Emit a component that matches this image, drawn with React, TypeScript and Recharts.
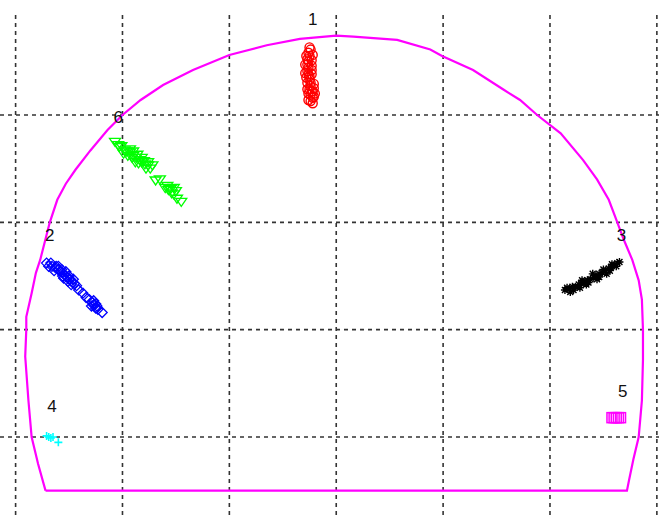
import { ScatterChart, Scatter, XAxis, YAxis, ReferenceLine } from 'recharts'

// tunnel cross-section outline, one grid cell = 1 unit
const outline = [
  { x: -2.72, y: -0.5 }, { x: -2.79, y: -0.25 }, { x: -2.85, y: 0 }, { x: -2.88, y: 0.34 },
  { x: -2.91, y: 0.75 }, { x: -2.9, y: 1.0 }, { x: -2.9, y: 1.12 }, { x: -2.85, y: 1.34 },
  { x: -2.81, y: 1.53 }, { x: -2.77, y: 1.65 }, { x: -2.68, y: 2.0 }, { x: -2.61, y: 2.21 },
  { x: -2.53, y: 2.36 }, { x: -2.44, y: 2.49 }, { x: -2.3, y: 2.67 }, { x: -2.14, y: 2.86 },
  { x: -2.0, y: 3.0 }, { x: -1.83, y: 3.14 }, { x: -1.62, y: 3.28 }, { x: -1.34, y: 3.42 },
  { x: -1.0, y: 3.56 }, { x: -0.65, y: 3.65 }, { x: -0.34, y: 3.71 }, { x: 0, y: 3.74 },
  { x: 0.16, y: 3.73 }, { x: 0.57, y: 3.7 }, { x: 0.88, y: 3.61 }, { x: 0.99, y: 3.55 },
  { x: 1.28, y: 3.42 }, { x: 1.56, y: 3.24 }, { x: 1.72, y: 3.14 }, { x: 1.88, y: 3.0 },
  { x: 2.1, y: 2.83 }, { x: 2.31, y: 2.58 }, { x: 2.44, y: 2.4 }, { x: 2.55, y: 2.21 },
  { x: 2.63, y: 2.0 }, { x: 2.69, y: 1.84 }, { x: 2.77, y: 1.65 }, { x: 2.83, y: 1.46 },
  { x: 2.86, y: 1.28 }, { x: 2.87, y: 1.0 }, { x: 2.87, y: 0.72 }, { x: 2.86, y: 0.34 },
  { x: 2.83, y: 0 }, { x: 2.78, y: -0.21 }, { x: 2.74, y: -0.4 }, { x: 2.72, y: -0.5 },
  { x: -2.72, y: -0.5 },
]

const point1 = [
  { x: -0.25, y: 3.63 }, { x: -0.24, y: 3.61 }, { x: -0.26, y: 3.58 }, { x: -0.25, y: 3.55 },
  { x: -0.27, y: 3.52 }, { x: -0.26, y: 3.5 }, { x: -0.27, y: 3.47 }, { x: -0.26, y: 3.44 },
  { x: -0.27, y: 3.41 }, { x: -0.26, y: 3.38 }, { x: -0.25, y: 3.36 }, { x: -0.25, y: 3.33 },
  { x: -0.24, y: 3.3 }, { x: -0.24, y: 3.27 }, { x: -0.25, y: 3.24 }, { x: -0.23, y: 3.22 },
  { x: -0.24, y: 3.19 }, { x: -0.22, y: 3.16 }, { x: -0.21, y: 3.17 }, { x: -0.24, y: 3.13 },
  { x: -0.22, y: 3.11 }, { x: -0.26, y: 3.14 }, { x: -0.22, y: 3.22 }, { x: -0.23, y: 3.51 },
  { x: -0.28, y: 3.35 }, { x: -0.23, y: 3.42 }, { x: -0.28, y: 3.55 }, { x: -0.22, y: 3.56 },
  { x: -0.29, y: 3.47 }, { x: -0.23, y: 3.46 }, { x: -0.29, y: 3.39 }, { x: -0.23, y: 3.38 },
  { x: -0.27, y: 3.3 }, { x: -0.21, y: 3.29 }, { x: -0.27, y: 3.24 }, { x: -0.21, y: 3.25 },
  { x: -0.26, y: 3.2 }, { x: -0.2, y: 3.2 },
]

const point2 = [
  { x: -2.71, y: 1.62 }, { x: -2.69, y: 1.59 }, { x: -2.66, y: 1.59 }, { x: -2.63, y: 1.58 },
  { x: -2.6, y: 1.56 }, { x: -2.58, y: 1.54 }, { x: -2.56, y: 1.53 }, { x: -2.54, y: 1.51 },
  { x: -2.52, y: 1.49 }, { x: -2.49, y: 1.47 }, { x: -2.47, y: 1.44 }, { x: -2.45, y: 1.43 },
  { x: -2.43, y: 1.41 }, { x: -2.41, y: 1.37 }, { x: -2.37, y: 1.34 }, { x: -2.34, y: 1.3 },
  { x: -2.31, y: 1.28 }, { x: -2.28, y: 1.25 }, { x: -2.27, y: 1.23 }, { x: -2.25, y: 1.2 },
  { x: -2.23, y: 1.19 }, { x: -2.19, y: 1.16 }, { x: -2.62, y: 1.59 }, { x: -2.56, y: 1.5 },
  { x: -2.51, y: 1.45 }, { x: -2.67, y: 1.62 }, { x: -2.64, y: 1.55 }, { x: -2.6, y: 1.59 },
  { x: -2.57, y: 1.56 }, { x: -2.55, y: 1.48 }, { x: -2.53, y: 1.54 }, { x: -2.5, y: 1.5 },
  { x: -2.48, y: 1.42 }, { x: -2.46, y: 1.47 }, { x: -2.27, y: 1.27 }, { x: -2.25, y: 1.24 },
  { x: -2.24, y: 1.22 }, { x: -2.29, y: 1.22 },
]

const point3 = [
  { x: 2.14, y: 1.37 }, { x: 2.18, y: 1.38 }, { x: 2.21, y: 1.4 }, { x: 2.24, y: 1.4 },
  { x: 2.27, y: 1.42 }, { x: 2.29, y: 1.43 }, { x: 2.32, y: 1.44 }, { x: 2.35, y: 1.46 },
  { x: 2.38, y: 1.47 }, { x: 2.41, y: 1.49 }, { x: 2.43, y: 1.5 }, { x: 2.46, y: 1.52 },
  { x: 2.49, y: 1.53 }, { x: 2.52, y: 1.55 }, { x: 2.55, y: 1.57 }, { x: 2.57, y: 1.58 },
  { x: 2.6, y: 1.6 }, { x: 2.63, y: 1.62 }, { x: 2.65, y: 1.63 }, { x: 2.36, y: 1.44 },
  { x: 2.44, y: 1.47 }, { x: 2.53, y: 1.52 }, { x: 2.28, y: 1.39 }, { x: 2.19, y: 1.35 },
  { x: 2.3, y: 1.46 }, { x: 2.34, y: 1.42 }, { x: 2.4, y: 1.52 }, { x: 2.46, y: 1.49 },
  { x: 2.5, y: 1.56 }, { x: 2.56, y: 1.55 }, { x: 2.58, y: 1.61 }, { x: 2.62, y: 1.59 },
  { x: 2.16, y: 1.39 }, { x: 2.22, y: 1.37 },
]

const point4 = [
  { x: -2.71, y: 0.01 }, { x: -2.69, y: 0 }, { x: -2.67, y: -0.01 }, { x: -2.65, y: 0 },
  { x: -2.6, y: -0.05 },
]

const point5 = [
  { x: 2.58, y: 0.18 }, { x: 2.6, y: 0.18 }, { x: 2.62, y: 0.18 }, { x: 2.64, y: 0.18 },
  { x: 2.66, y: 0.18 },
]

const point6 = [
  { x: -2.07, y: 2.75 }, { x: -2.04, y: 2.72 }, { x: -2.01, y: 2.71 }, { x: -1.98, y: 2.67 },
  { x: -1.96, y: 2.66 }, { x: -1.93, y: 2.65 }, { x: -1.9, y: 2.62 }, { x: -1.87, y: 2.6 },
  { x: -1.84, y: 2.58 }, { x: -1.82, y: 2.56 }, { x: -1.79, y: 2.54 }, { x: -1.76, y: 2.53 },
  { x: -1.74, y: 2.5 }, { x: -1.82, y: 2.6 }, { x: -1.93, y: 2.68 }, { x: -1.88, y: 2.56 },
  { x: -1.69, y: 2.39 }, { x: -1.65, y: 2.4 }, { x: -1.6, y: 2.32 }, { x: -1.57, y: 2.3 },
  { x: -1.54, y: 2.27 }, { x: -1.52, y: 2.26 }, { x: -1.49, y: 2.22 }, { x: -1.45, y: 2.19 },
  { x: -1.52, y: 2.32 }, { x: -2.03, y: 2.7 }, { x: -1.99, y: 2.64 }, { x: -1.95, y: 2.62 },
  { x: -1.91, y: 2.6 }, { x: -1.9, y: 2.66 }, { x: -1.86, y: 2.63 }, { x: -1.85, y: 2.55 },
  { x: -1.8, y: 2.57 }, { x: -1.78, y: 2.5 }, { x: -1.76, y: 2.56 }, { x: -1.72, y: 2.53 },
  { x: -1.58, y: 2.34 }, { x: -1.55, y: 2.31 }, { x: -1.5, y: 2.29 },
]

const pointLabels = [
  { x: -0.22, y: 3.89, text: '1' },
  { x: -2.68, y: 1.88, text: '2' },
  { x: 2.67, y: 1.88, text: '3' },
  { x: -2.66, y: 0.28, text: '4' },
  { x: 2.68, y: 0.42, text: '5' },
  { x: -2.04, y: 2.98, text: '6' },
]

const xTicks = [-3, -2, -1, 0, 1, 2, 3]
const yTicks = [0, 1, 2, 3]

const Circle = (p: any) => <circle cx={p.cx} cy={p.cy} r={4.5} fill="none" stroke="#ff0000" strokeWidth={1.4} />

const Diamond = (p: any) => (
  <path d={`M${p.cx},${p.cy - 5}L${p.cx + 5},${p.cy}L${p.cx},${p.cy + 5}L${p.cx - 5},${p.cy}Z`} fill="none" stroke="#0000ff" strokeWidth={1.3} />
)

const Star = (p: any) => (
  <path
    d={`M${p.cx - 4},${p.cy}H${p.cx + 4}M${p.cx},${p.cy - 4}V${p.cy + 4}M${p.cx - 3},${p.cy - 3}L${p.cx + 3},${p.cy + 3}M${p.cx - 3},${p.cy + 3}L${p.cx + 3},${p.cy - 3}`}
    stroke="#000"
    strokeWidth={1.4}
  />
)

const Plus = (p: any) => (
  <path d={`M${p.cx - 4},${p.cy}H${p.cx + 4}M${p.cx},${p.cy - 4}V${p.cy + 4}`} stroke="#00ffff" strokeWidth={1.6} />
)

const Square = (p: any) => (
  <rect x={p.cx - 5} y={p.cy - 5} width={10} height={10} fill="none" stroke="#ff00ff" strokeWidth={1.5} />
)

const TriDown = (p: any) => (
  <path d={`M${p.cx - 5.5},${p.cy - 3.5}H${p.cx + 5.5}L${p.cx},${p.cy + 4.5}Z`} fill="none" stroke="#00ff00" strokeWidth={1.3} />
)

const Txt = (p: any) => (
  <text
    x={p.cx}
    y={p.cy}
    textAnchor="middle"
    dominantBaseline="central"
    fontFamily="'Liberation Sans', Arial, sans-serif"
    fontSize={17}
    fill="#111"
  >
    {p.payload.text}
  </text>
)

export default function App() {
  return (
    <div style={{ position: 'absolute', left: 0, top: 0, background: '#fff' }}>
      <ScatterChart width={659} height={515} margin={{ top: 12, right: 0, bottom: 0, left: 0 }}>
        <XAxis
          type="number"
          dataKey="x"
          domain={[-3.146, 3.02]}
          ticks={xTicks}
          allowDataOverflow
          height={0}
          tick={false}
          axisLine={false}
          tickLine={false}
        />
        <YAxis
          type="number"
          dataKey="y"
          domain={[-0.727, 3.96]}
          ticks={yTicks}
          allowDataOverflow
          width={0}
          tick={false}
          axisLine={false}
          tickLine={false}
        />
        {xTicks.map((t) => (
          <ReferenceLine key={`vx${t}`} x={t} stroke="#333" strokeWidth={1.6} strokeDasharray="4 4" />
        ))}
        {yTicks.map((t) => (
          <ReferenceLine key={`hy${t}`} y={t} stroke="#333" strokeWidth={1.6} strokeDasharray="4 4" />
        ))}
        <Scatter
          data={outline}
          line={{ stroke: '#ff00ff', strokeWidth: 2.2 }}
          shape={() => <g />}
          isAnimationActive={false}
        />
        <Scatter data={point1} shape={Circle} isAnimationActive={false} />
        <Scatter data={point6} shape={TriDown} isAnimationActive={false} />
        <Scatter data={point2} shape={Diamond} isAnimationActive={false} />
        <Scatter data={point3} shape={Star} isAnimationActive={false} />
        <Scatter data={point4} shape={Plus} isAnimationActive={false} />
        <Scatter data={point5} shape={Square} isAnimationActive={false} />
        <Scatter data={pointLabels} shape={Txt} isAnimationActive={false} />
      </ScatterChart>
    </div>
  )
}
